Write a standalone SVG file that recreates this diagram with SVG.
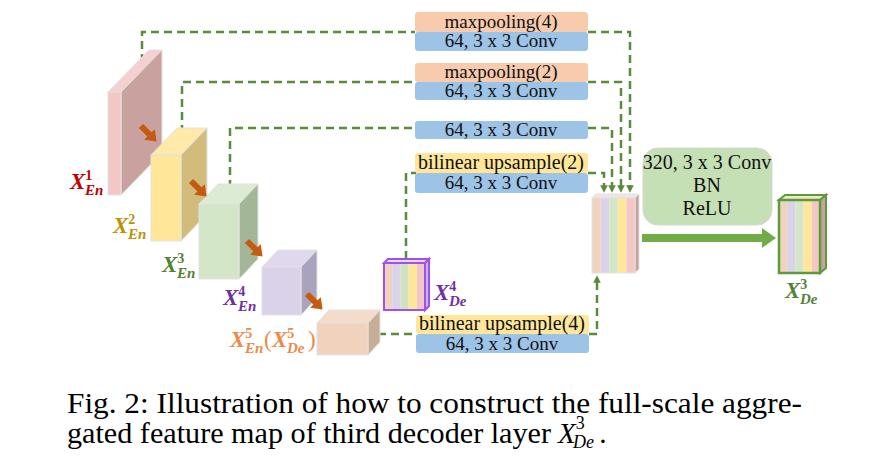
<svg xmlns="http://www.w3.org/2000/svg" width="875" height="465" viewBox="0 0 875 465">
<style>
.dash{fill:none;stroke:#5a8a3a;stroke-width:2.5;stroke-dasharray:8 5}
.edge{stroke:#e2e2e2;stroke-width:1}
.bt{font-family:"Liberation Serif",serif;font-size:19px;fill:#111;text-anchor:middle}
.gt{font-family:"Liberation Serif",serif;font-size:20px;fill:#111;text-anchor:middle}
.lx{font-family:"Liberation Serif",serif;font-weight:bold;font-style:italic;font-size:23px}
.ls{font-weight:bold;font-style:normal;font-size:14px}
.lb{font-weight:bold;font-style:italic;font-size:15px}
.cap{font-family:"Liberation Serif",serif;font-size:29px;fill:#000}
</style>
<defs>
<marker id="ga" viewBox="0 0 10 10" refX="5" refY="5" markerWidth="3" markerHeight="3" orient="auto"><path d="M0,0 L10,5 L0,10 z" fill="#5a8a3a"/></marker>
<path id="oarr" d="M0,-3 L12,-3 L12,-7.5 L22,0 L12,7.5 L12,3 L0,3 z" fill="#c55a11"/>
</defs>

<g id="connectors">
<path class="dash" d="M142,62 V32 H415"/>
<path class="dash" d="M588,32 H630 V189" marker-end="url(#ga)"/>
<path class="dash" d="M182,133 V82 H415"/>
<path class="dash" d="M588,82 H621 V189" marker-end="url(#ga)"/>
<path class="dash" d="M230,188 V128 H415"/>
<path class="dash" d="M588,128 H612 V189" marker-end="url(#ga)"/>
<path class="dash" d="M406,259 V173 H416"/>
<path class="dash" d="M588,173 H604 V189" marker-end="url(#ga)"/>
<path class="dash" d="M378,334 H416"/>
<path class="dash" d="M589,334 H597 V279" marker-end="url(#ga)"/>
<rect x="642" y="234" width="121" height="8" fill="#70ad47"/>
<polygon points="762,228 776,238 762,248" fill="#70ad47"/>
</g>

<g id="x1">
<polygon class="edge" points="108,92 149,50 162,50 121,92" fill="#f6d0d0"/>
<polygon class="edge" points="121,92 162,50 162,153 121,195" fill="#c9a19f"/>
<rect class="edge" x="108" y="92" width="13" height="103" fill="#f4c7c7"/>
<text class="lx" x="70" y="189" fill="#c00000">X<tspan class="ls" dy="-9">1</tspan><tspan class="lb" x="85" dy="15">En</tspan></text>
</g>

<g id="x2">
<polygon class="edge" points="151,155 177,128 207,128 181,155" fill="#ffeaa9"/>
<polygon class="edge" points="181,155 207,128 207,214 181,241" fill="#d1bc7c"/>
<rect class="edge" x="151" y="155" width="30" height="86" fill="#ffe699"/>
<text class="lx" x="113" y="233" fill="#bf9000">X<tspan class="ls" dy="-9">2</tspan><tspan class="lb" x="128" dy="15">En</tspan></text>
</g>

<g id="x3">
<polygon class="edge" points="199,204 218,184 258,184 239,204" fill="#dcebd3"/>
<polygon class="edge" points="239,204 258,184 258,259 239,279" fill="#a3b697"/>
<rect class="edge" x="199" y="204" width="40" height="75" fill="#d4e6c8"/>
<text class="lx" x="162" y="272" fill="#538135">X<tspan class="ls" dy="-9">3</tspan><tspan class="lb" x="177" dy="15">En</tspan></text>
</g>

<g id="x4">
<polygon class="edge" points="262,267 278,250 317,250 301,267" fill="#e0d9ee"/>
<polygon class="edge" points="301,267 317,250 317,298 301,315" fill="#aaa3bd"/>
<rect class="edge" x="262" y="267" width="39" height="48" fill="#d9d2e9"/>
<text class="lx" x="223" y="305" fill="#7030a0">X<tspan class="ls" dy="-9">4</tspan><tspan class="lb" x="238" dy="15">En</tspan></text>
</g>

<g id="x5">
<polygon class="edge" points="317,323 329,310 380,310 368,323" fill="#f4dcc8"/>
<polygon class="edge" points="368,323 380,310 380,342 368,355" fill="#c8ae99"/>
<rect class="edge" x="317" y="323" width="51" height="32" fill="#f1d3bd"/>
<text class="lx" x="230" y="347" fill="#ed8a4a">X<tspan class="ls" dy="-9">5</tspan><tspan class="lb" x="245" dy="15">En</tspan><tspan x="264" dy="-6" style="font-style:normal;font-weight:normal">(</tspan><tspan x="272">X</tspan><tspan class="ls" dy="-9">5</tspan><tspan class="lb" x="287" dy="15">De</tspan><tspan x="308" dy="-6" style="font-style:normal;font-weight:normal">)</tspan></text>
</g>

<g id="x4de">
<polygon points="384,263 388,259 429,259 425,263" fill="#e8dcf4" stroke="#a050f0" stroke-width="2"/>
<polygon points="425,263 429,259 429,306 425,310" fill="#c9b6dc" stroke="#a050f0" stroke-width="2"/>
<rect x="384" y="263" width="8.2" height="47" fill="#f1d3bd"/>
<rect x="392.2" y="263" width="8.2" height="47" fill="#d9d2e9"/>
<rect x="400.4" y="263" width="8.2" height="47" fill="#cfe3c3"/>
<rect x="408.6" y="263" width="8.2" height="47" fill="#ffe699"/>
<rect x="416.8" y="263" width="8.2" height="47" fill="#f4c7c7"/>
<rect x="384" y="263" width="41" height="47" fill="none" stroke="#a050f0" stroke-width="2"/>
<text class="lx" x="434" y="300" fill="#7030a0">X<tspan class="ls" dy="-9">4</tspan><tspan class="lb" x="449" dy="15">De</tspan></text>
</g>

<g id="box1">
<rect x="415" y="12" width="173" height="20" rx="3" fill="#f8cbad"/>
<rect x="415" y="32" width="173" height="19" rx="3" fill="#9dc3e6"/>
<text class="bt" x="501" y="28">maxpooling(4)</text>
<text class="bt" x="501" y="47">64, 3 x 3 Conv</text>
</g>
<g id="box2">
<rect x="415" y="63" width="173" height="19" rx="3" fill="#f8cbad"/>
<rect x="415" y="82" width="173" height="18" rx="3" fill="#9dc3e6"/>
<text class="bt" x="501" y="78">maxpooling(2)</text>
<text class="bt" x="501" y="97">64, 3 x 3 Conv</text>
</g>
<g id="box3">
<rect x="415" y="121" width="173" height="18" rx="3" fill="#9dc3e6"/>
<text class="bt" x="501" y="136">64, 3 x 3 Conv</text>
</g>
<g id="box4">
<rect x="415" y="153" width="173" height="20" rx="3" fill="#ffe699"/>
<rect x="415" y="173" width="173" height="20" rx="3" fill="#9dc3e6"/>
<text class="bt" x="501" y="169" style="font-size:20px">bilinear upsample(2)</text>
<text class="bt" x="501" y="189">64, 3 x 3 Conv</text>
</g>
<g id="box5">
<rect x="416" y="315" width="173" height="19" rx="3" fill="#ffe699"/>
<rect x="416" y="334" width="173" height="19" rx="3" fill="#9dc3e6"/>
<text class="bt" x="502" y="330" style="font-size:20px">bilinear upsample(4)</text>
<text class="bt" x="502" y="350">64, 3 x 3 Conv</text>
</g>

<g id="concat">
<polygon class="edge" points="592,198 596,194 639,194 635,198" fill="#f0e4e4"/>
<polygon class="edge" points="635,198 639,194 639,269 635,273" fill="#c9a19f"/>
<rect x="592" y="198" width="8.6" height="75" fill="#f1d3bd"/>
<rect x="600.6" y="198" width="8.6" height="75" fill="#d9d2e9"/>
<rect x="609.2" y="198" width="8.6" height="75" fill="#d4e6c8"/>
<rect x="617.8" y="198" width="8.6" height="75" fill="#ffe699"/>
<rect x="626.4" y="198" width="8.6" height="75" fill="#f4c7c7"/>
<rect class="edge" x="592" y="198" width="43" height="75" fill="none"/>
</g>

<g id="convbn">
<rect x="643" y="148" width="129" height="77" rx="15" fill="#c5e0b4" stroke="#d6d6d6"/>
<text class="gt" x="707" y="169">320, 3 x 3 Conv</text>
<text class="gt" x="707" y="192">BN</text>
<text class="gt" x="707" y="215">ReLU</text>
</g>

<g id="x3de">
<polygon points="779,200 785,195 826,195 820,200" fill="#f3e6c8" stroke="#5b9b3a" stroke-width="2"/>
<polygon points="820,200 826,195 826,268 820,273" fill="#c9a19f" stroke="#5b9b3a" stroke-width="2"/>
<rect x="779" y="200" width="8.2" height="73" fill="#f1d3bd"/>
<rect x="787.2" y="200" width="8.2" height="73" fill="#d9d2e9"/>
<rect x="795.4" y="200" width="8.2" height="73" fill="#d4e6c8"/>
<rect x="803.6" y="200" width="8.2" height="73" fill="#ffe699"/>
<rect x="811.8" y="200" width="8.2" height="73" fill="#f4c7c7"/>
<rect x="779" y="200" width="41" height="73" fill="none" stroke="#5b9b3a" stroke-width="2.5"/>
<text class="lx" x="785" y="298" fill="#538135">X<tspan class="ls" dy="-9">3</tspan><tspan class="lb" x="800" dy="15">De</tspan></text>
</g>

<g id="flow-arrows">
<use href="#oarr" transform="translate(141,126) rotate(45)"/>
<use href="#oarr" transform="translate(191,181) rotate(45)"/>
<use href="#oarr" transform="translate(247,241) rotate(45)"/>
<use href="#oarr" transform="translate(307,294) rotate(45)"/>
</g>

<g id="caption">
<text class="cap" x="67" y="413" textLength="735" lengthAdjust="spacingAndGlyphs">Fig. 2: Illustration of how to construct the full-scale aggre-</text>
<text class="cap" x="67" y="443" textLength="484" lengthAdjust="spacingAndGlyphs">gated feature map of third decoder layer</text>
<text class="cap" x="558" y="443" style="font-style:italic">X<tspan dy="-14" style="font-size:18px;font-style:normal">3</tspan><tspan x="573" dy="19" style="font-size:18px">De</tspan><tspan x="600" dy="-5">.</tspan></text>
</g>
</svg>
